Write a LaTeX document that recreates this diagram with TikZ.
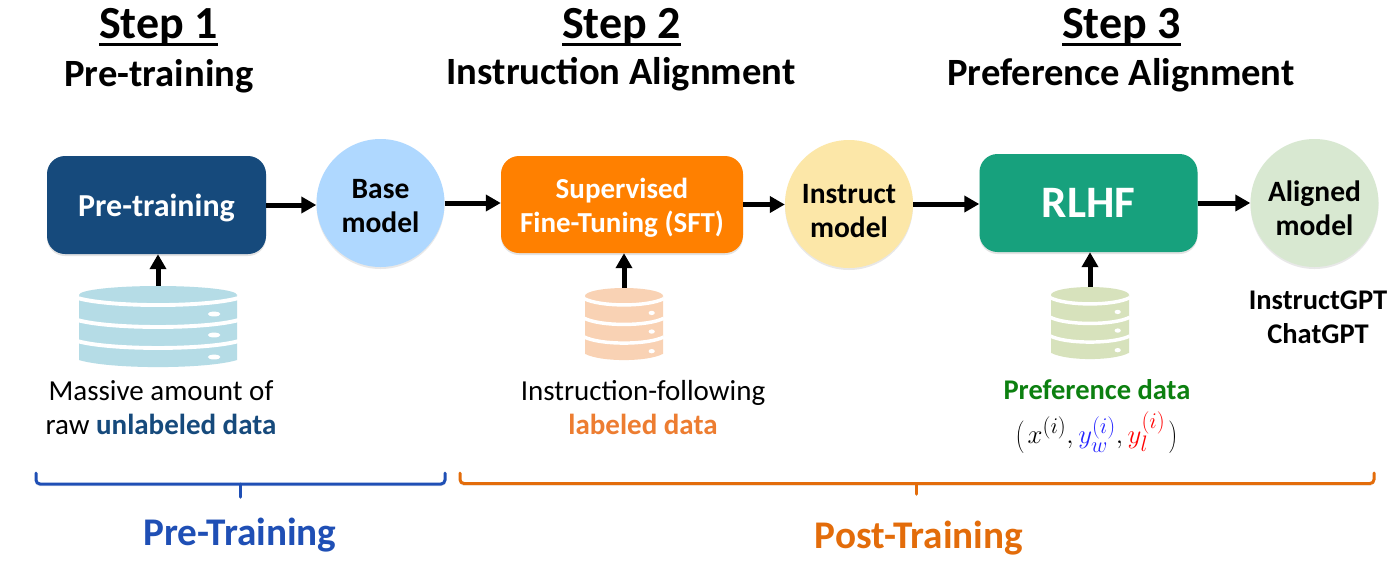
\documentclass[tikz,border=0pt]{standalone}
\usepackage{fontspec}
\usepackage{graphicx}
\setmainfont{Carlito}
\usetikzlibrary{arrows.meta,shadows}
\definecolor{cpre}{HTML}{164A7C}
\definecolor{cbase}{HTML}{AFD8FF}
\definecolor{csft}{HTML}{FF8000}
\definecolor{cinst}{HTML}{FCE7A8}
\definecolor{crlhf}{HTML}{17A17D}
\definecolor{calign}{HTML}{D8E8D1}
\definecolor{cdba}{HTML}{B5DCE6}
\definecolor{cdbb}{HTML}{F9D2B4}
\definecolor{cdbc}{HTML}{D7E2BC}
\definecolor{clab}{HTML}{ED7D31}
\definecolor{cpref}{HTML}{0C8010}
\definecolor{cblue}{HTML}{1F4FB5}
\definecolor{corg}{HTML}{E36C0A}
\newcommand{\fsz}[2]{\fontsize{#1}{#2}\selectfont}
\newcommand{\stepul}[1]{\setbox0\hbox{#1}\rlap{\rule[-7.5pt]{\wd0}{3pt}}\box0}
\newcommand{\tp}[1]{\rule{0pt}{#1pt}}
\newcommand{\lowsub}[1]{\lower2.5pt\hbox{$\scriptstyle #1$}}
% centre x, top y, half width, height, colour
\newcommand{\dbstack}[5]{%
 \begin{scope}[shift={(#1,#2)},x=#3pt,y=-#4pt]
  \fill[#5] (-1,.11) arc[x radius=1,y radius=.11,start angle=180,end angle=0] -- (1,.914)
    .. controls (.6,1.03) and (-.6,1.03) .. (-1,.914) -- cycle;
  \fill[#5] (-1,.11) arc[x radius=1,y radius=.11,start angle=180,end angle=360]
    arc[x radius=1,y radius=.11,start angle=0,end angle=180] -- cycle;
  \foreach \e/\c in {.148/.235,.42/.506,.68/.765}{
   \pgfmathsetmacro{\k}{\e+(\c-\e)*4/3}
   \draw[white,line width=#4*.048pt] (-1.02,\e) .. controls (-.6,\k) and (.6,\k) .. (1.02,\e);
  }
  \foreach \v in {.346,.605,.877}{
   \fill[white] (.71,\v) ellipse[x radius=.08,y radius=.03];
  }
 \end{scope}}
\tikzset{
 boxn/.style={rectangle,rounded corners=18pt,inner sep=0pt,text=white,align=center,font=\bfseries\fsz{29}{34},
   drop shadow={opacity=.22,shadow xshift=0pt,shadow yshift=-2pt}},
 circn/.style={circle,minimum size=128pt,inner sep=0pt,align=center,font=\bfseries\fsz{29.5}{34},
   drop shadow={opacity=.18,shadow xshift=0pt,shadow yshift=-2pt}},
 stepn/.style={font=\bfseries\fsz{46}{48},inner sep=0pt},
 subn/.style={font=\bfseries\fsz{38.6}{42},inner sep=0pt},
 labn/.style={font=\fsz{29}{34},align=center,inner sep=0pt},
 dbn/.style={rectangle,inner sep=0pt},
 arr/.style={line width=5pt,-{Triangle[length=15pt,width=16pt]}},
 brace/.style={line width=3pt,rounded corners=4pt,line cap=round,
   preaction={draw=black,opacity=.14,transform canvas={yshift=-2pt}}},
 grpn/.style={font=\bfseries\fsz{39.2}{42},inner sep=0pt},
}
\begin{document}
\begin{tikzpicture}[x=1pt,y=-1pt]
\useasboundingbox (0,0) rectangle (1400,566);
\fill[white] (0,0) rectangle (1400,566);
% headings
\node[stepn] (s1) at (158.5,27) {\stepul{Step 1}};
\node[stepn] (s2) at (621.5,27) {\stepul{Step 2}};
\node[stepn] (s3) at (1121.5,27) {\stepul{Step 3}};
\node[subn] (t1) at (159,76) {Pre-training};
\node[subn] (t2) at (621,74) {Instruction Alignment};
\node[subn] (t3) at (1121,75) {Preference Alignment};
% main row
\node[boxn,fill=cpre,minimum width=219pt,minimum height=98pt,font=\bfseries\fsz{32}{36}] (pre) at (156.5,205) {\tp{28}Pre-training};
\node[circn,fill=cbase] (base) at (380.5,203) {\tp{25}Base\\model};
\node[boxn,fill=csft,minimum width=242pt,minimum height=97pt] (sft) at (622,204.5) {\tp{26}Supervised\\Fine-Tuning (SFT)};
\node[circn,fill=cinst] (inst) at (849,204) {\tp{33}Instruct\\model};
\node[boxn,fill=crlhf,minimum width=218pt,minimum height=98pt,font=\bfseries\fsz{45}{50}] (rlhf) at (1088.5,203) {RLHF};
\node[circn,fill=calign] (algn) at (1314.5,203) {\tp{31}Aligned\\model};
% databases
\node[dbn,minimum width=158pt,minimum height=81pt] (dba) at (158,326.5) {};
\node[dbn,minimum width=78pt,minimum height=72pt] (dbb) at (624,324) {};
\node[dbn,minimum width=78pt,minimum height=72pt] (dbc) at (1090,323) {};
\dbstack{158}{286}{79}{81}{cdba}
\dbstack{624}{288}{39}{72}{cdbb}
\dbstack{1090}{287}{39}{72}{cdbc}
% connectors
\draw[arr] (pre.east) -- (pre.east -| base.west);
\draw[arr] (base.east) -- (base.east -| sft.west);
\draw[arr] (sft.east) -- (sft.east -| inst.west);
\draw[arr] (inst.east) -- (inst.east -| rlhf.west);
\draw[arr] (rlhf.east) -- (rlhf.east -| algn.west);
\draw[arr] (dba.north) -- (dba.north |- pre.south);
\draw[arr] (dbb.north) -- (dbb.north |- sft.south);
\draw[arr] (dbc.north) -- (dbc.north |- rlhf.south);
% labels
\node[labn] (la) at (161,408) {Massive amount of\\raw \textbf{\textcolor{cpre}{unlabeled data}}};
\node[labn] (lb) at (643,408) {Instruction-following\\\textbf{\textcolor{clab}{labeled data}}};
\node[labn,font=\bfseries\fsz{28.5}{34},text=cpref] (lc) at (1097,389.5) {Preference data};
\node[inner sep=0pt,font=\fsz{32}{36}] (lf) at (1096.5,433) {\scalebox{1.08}{$\left(\vcenter to 32pt{}\right.\kern-2pt x^{(i)},\textcolor{blue!85!white}{y_{\lowsub{w}}^{(i)}},\textcolor{red}{y_{\lowsub{l}}^{(i)}}\kern-2pt\left.\vcenter to 32pt{}\right)$}};
\node[labn,font=\bfseries\fsz{28.5}{34}] (gpt) at (1318,317) {InstructGPT\\ChatGPT};
% brackets
\draw[brace,cblue] (36,473) -- (36,484) -- (240,484) -- (445,484) -- (445,473);
\draw[brace,cblue,rounded corners=0pt] (240,484) -- (240,497);
\draw[brace,corg] (460,473) -- (460,483.5) -- (1374,483.5) -- (1374,473);
\draw[brace,corg,rounded corners=0pt] (916,483.5) -- (916,494);
\node[grpn,text=cblue] (g1) at (240,535) {Pre-Training};
\node[grpn,text=corg] (g2) at (919,538.5) {Post-Training};
\end{tikzpicture}
\end{document}
